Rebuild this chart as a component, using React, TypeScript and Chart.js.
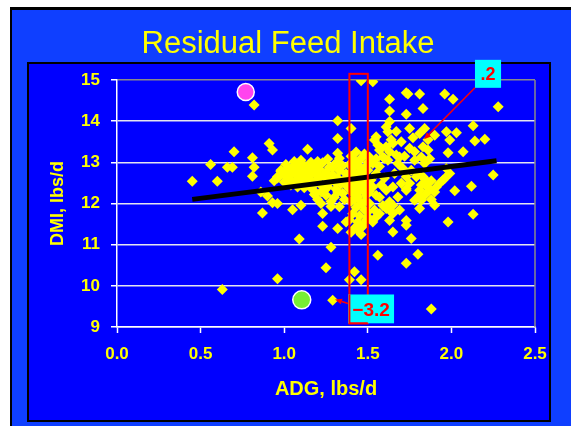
import React, { useEffect, useRef } from "react";
import { Chart, registerables } from "chart.js";

Chart.register(...registerables);

const W = 571;
const H = 426;

const chartTitle = "Residual Feed Intake";
const xAxisTitle = "ADG, lbs/d";
const yAxisTitle = "DMI, lbs/d";

const xTicks = [0, 0.5, 1, 1.5, 2, 2.5];
const yTicks = [9, 10, 11, 12, 13, 14, 15];

// individual animals: [ADG, DMI]
const steersSparse: [number, number][] = [
  [0.45, 12.54], [0.56, 12.95], [0.6, 12.54], [0.63, 9.91], [0.66, 12.88], [0.69, 12.88], [0.7, 13.26],
  [0.81, 13.11], [0.82, 12.88], [0.81, 12.66], [0.82, 14.39], [0.86, 12.28], [0.9, 12.18], [0.93, 12.02], [0.96, 12.0],
  [0.87, 11.77], [0.91, 13.46], [0.93, 13.3], [0.94, 12.55], [0.96, 12.65], [0.98, 12.81], [0.96, 10.17],
  [1.05, 11.85], [1.1, 11.96], [1.09, 11.14], [1.05, 12.89], [1.09, 12.97], [1.11, 12.85], [1.14, 13.32],
  [1.22, 12.0], [1.23, 11.76], [1.23, 11.45], [1.28, 11.93], [1.33, 11.92], [1.32, 11.39], [1.37, 11.55],
  [1.28, 10.94], [1.25, 10.44], [1.29, 9.65],
  [1.32, 14.01], [1.32, 13.58], [1.32, 13.22], [1.32, 13.01], [1.4, 13.82],
  [1.42, 10.34], [1.39, 10.15], [1.46, 10.15],
];

const steersUpper: [number, number][] = [
  [1.46, 14.98], [1.53, 14.96], [1.63, 14.53], [1.73, 14.69], [1.74, 14.66], [1.81, 14.66], [1.96, 14.66], [2.01, 14.53], [2.28, 14.35],
  [1.83, 14.31], [1.63, 14.25], [1.73, 14.17], [1.63, 13.99], [1.61, 13.86], [1.62, 13.74],
  [1.75, 13.82], [1.84, 13.82], [1.81, 13.7], [1.9, 13.66], [1.97, 13.74], [2.03, 13.72], [2.13, 13.89], [2.14, 13.52], [2.2, 13.56], [1.99, 13.54],
  [1.55, 13.62], [1.54, 13.54], [1.65, 13.46], [1.56, 13.42], [1.61, 13.38], [1.58, 13.34], [1.63, 13.26], [1.67, 13.18], [1.59, 13.13], [1.55, 13.09], [1.62, 13.05],
  [1.75, 13.34], [1.78, 13.26], [1.83, 13.38], [1.86, 13.3], [1.82, 13.13], [1.87, 13.09], [1.78, 13.05], [1.84, 12.97],
  [1.98, 13.23], [2.07, 13.26], [1.69, 13.13],
  [1.64, 13.55], [1.67, 13.75], [1.7, 13.5], [1.77, 13.6], [1.86, 13.55], [1.72, 13.15],
];

const steersRight: [number, number][] = [
  [2.25, 12.69], [2.12, 12.42], [2.02, 12.31], [1.96, 12.61], [1.93, 12.49], [1.91, 12.4], [1.97, 12.85], [1.99, 12.73], [1.95, 12.57],
  [1.73, 12.36], [1.81, 12.2], [1.82, 12.08], [1.81, 11.88], [1.9, 11.96], [2.13, 11.74], [1.98, 11.55],
  [1.73, 11.59], [1.73, 11.47], [1.65, 11.96], [1.69, 11.84], [1.63, 11.84],
  [1.65, 11.31], [1.76, 11.15], [1.55, 11.67], [1.56, 10.74], [1.8, 10.77], [1.73, 10.55], [1.88, 9.44],
  [1.76, 12.81], [1.79, 12.65], [1.75, 12.49], [1.83, 12.65], [1.85, 12.49], [1.81, 12.32], [1.87, 12.32], [1.78, 12.08],
  [1.68, 12.97], [1.71, 12.85], [1.66, 12.73], [1.73, 12.65], [1.7, 12.49], [1.65, 12.4], [1.61, 12.32], [1.73, 12.32], [1.68, 12.16], [1.63, 12.04], [1.61, 11.88], [1.65, 11.76], [1.63, 11.59],
  [1.8, 12.7], [1.84, 12.6], [1.88, 12.55], [1.82, 12.45], [1.86, 12.38], [1.84, 12.2], [1.9, 12.28], [1.88, 12.1],
  [1.51, 13.13], [1.53, 12.97], [1.5, 12.81], [1.55, 12.73], [1.52, 12.57], [1.53, 12.4], [1.5, 12.24], [1.55, 12.2], [1.51, 12.0], [1.54, 11.84], [1.5, 11.67], [1.53, 11.55],
  [1.57, 13.3], [1.6, 13.1], [1.57, 12.9], [1.6, 12.62], [1.58, 12.45], [1.57, 12.15], [1.59, 11.95], [1.57, 11.75],
];

const steersCenter: [number, number][] = [
  [0.98, 12.78], [1.0, 12.7], [1.02, 12.85], [1.03, 12.62], [1.05, 12.75], [1.06, 12.9], [1.07, 12.55], [1.08, 12.68], [1.09, 12.82], [1.1, 12.95],
  [1.11, 12.6], [1.12, 12.72], [1.13, 12.48], [1.14, 12.88], [1.15, 12.66], [1.16, 12.79], [1.17, 12.52], [1.18, 12.93], [1.19, 12.7], [1.2, 12.58],
  [1.21, 12.84], [1.22, 12.45], [1.23, 12.99], [1.24, 12.65], [1.25, 12.76], [1.26, 12.4], [1.27, 12.88], [1.28, 12.55], [1.29, 12.7], [1.3, 12.95],
  [1.31, 12.35], [1.32, 12.62], [1.33, 12.8], [1.34, 12.48], [1.35, 12.92], [1.36, 12.58], [1.37, 12.72], [1.38, 12.4], [1.04, 12.45], [1.12, 12.38],
  [1.18, 12.3], [1.25, 12.2], [1.3, 12.15], [1.35, 12.25], [1.28, 12.05], [1.22, 12.28], [1.15, 12.42], [1.08, 12.4], [1.0, 12.52], [0.96, 12.62],
  [1.1, 13.05], [1.2, 13.02], [1.26, 13.08], [1.33, 13.1], [1.16, 13.0], [1.06, 13.02], [1.36, 12.1], [1.32, 12.28], [1.24, 12.32], [1.19, 12.5],
  [1.27, 12.62], [1.14, 12.58], [1.09, 12.55], [1.03, 12.8], [1.21, 12.68], [1.31, 12.5], [1.37, 12.55], [1.12, 12.92], [1.01, 12.95], [1.29, 12.88],
  [1.18, 12.22], [1.2, 12.1],
];

const steersBracket: [number, number][] = [
  [1.4, 13.15], [1.42, 13.05], [1.44, 12.95], [1.41, 12.85], [1.46, 12.8], [1.43, 12.7], [1.48, 12.65], [1.4, 12.55], [1.45, 12.5], [1.42, 12.4],
  [1.47, 12.35], [1.5, 12.45], [1.41, 12.25], [1.44, 12.15], [1.49, 12.2], [1.4, 12.05], [1.46, 12.0], [1.43, 11.9], [1.48, 11.85], [1.41, 11.75],
  [1.45, 11.7], [1.5, 11.8], [1.39, 11.6], [1.44, 11.55], [1.47, 11.45], [1.42, 11.4], [1.49, 12.9], [1.46, 13.1], [1.5, 13.0], [1.39, 12.95],
  [1.43, 12.6], [1.47, 12.55], [1.4, 12.75], [1.45, 12.3], [1.42, 12.1], [1.48, 12.05], [1.51, 12.3], [1.39, 12.35], [1.44, 11.35], [1.49, 11.6],
  [1.4, 11.3], [1.46, 11.25], [1.43, 13.25], [1.48, 13.2],
];

const regressionLine: [number, number][] = [[0.45, 12.1], [2.27, 13.04]];
const highRfiAnimal: [number, number][] = [[0.77, 14.71]];
const lowRfiAnimal: [number, number][] = [[1.105, 9.66]];

// annotation geometry in data units
const bracketX = [1.39, 1.5];
const bracketY = [9.09, 15.15];
const highLabel = { text: ".2", x: [2.141, 2.297], y: [15.49, 14.81], target: [1.836, 13.56] };
const lowLabel = { text: "\u22123.2", x: [1.382, 1.657], y: [9.79, 9.09], target: [1.304, 9.67] };

const allSteers = [...steersSparse, ...steersUpper, ...steersRight, ...steersCenter, ...steersBracket];
const toXY = (arr: [number, number][]) => arr.map(([x, y]) => ({ x, y }));

const FONT = "'Liberation Sans', Arial, Helvetica, sans-serif";
const YELLOW = "#ffff00";

function arrow(ctx: CanvasRenderingContext2D, x0: number, y0: number, x1: number, y1: number) {
  ctx.save();
  ctx.strokeStyle = "#ff0000";
  ctx.fillStyle = "#ff0000";
  ctx.lineWidth = 1.5;
  const ang = Math.atan2(y1 - y0, x1 - x0);
  const hl = 7;
  const hw = 3;
  const bx = x1 - Math.cos(ang) * hl;
  const by = y1 - Math.sin(ang) * hl;
  ctx.beginPath();
  ctx.moveTo(x0, y0);
  ctx.lineTo(bx, by);
  ctx.stroke();
  ctx.beginPath();
  ctx.moveTo(x1, y1);
  ctx.lineTo(bx + Math.sin(ang) * hw, by - Math.cos(ang) * hw);
  ctx.lineTo(bx - Math.sin(ang) * hw, by + Math.cos(ang) * hw);
  ctx.closePath();
  ctx.fill();
  ctx.restore();
}

const framePlugin = {
  id: "frame",
  beforeDraw(chart: any) {
    const ctx = chart.ctx as CanvasRenderingContext2D;
    ctx.save();
    ctx.fillStyle = "#ffffff";
    ctx.fillRect(0, 0, W, H);
    ctx.fillStyle = "#000000";
    ctx.fillRect(10, 7, W - 10, H - 7);
    ctx.fillStyle = "#0f3fff";
    ctx.fillRect(12, 10, W - 12, H - 10);
    ctx.fillStyle = "#000000";
    ctx.fillRect(27, 62, 524, 360);
    ctx.fillStyle = "#0000ff";
    ctx.fillRect(29, 64, 520, 356);
    // title
    ctx.fillStyle = YELLOW;
    ctx.font = `31px ${FONT}`;
    ctx.textAlign = "center";
    ctx.textBaseline = "alphabetic";
    ctx.fillText(chartTitle, 288, 53);
    ctx.restore();
  },
  afterDraw(chart: any) {
    const ctx = chart.ctx as CanvasRenderingContext2D;
    const area = chart.chartArea;
    ctx.save();
    ctx.fillStyle = YELLOW;
    ctx.font = `bold 20px ${FONT}`;
    ctx.textAlign = "center";
    ctx.textBaseline = "alphabetic";
    ctx.fillText(xAxisTitle, (area.left + area.right) / 2, 395);
    ctx.translate(58, (area.top + area.bottom) / 2);
    ctx.rotate(-Math.PI / 2);
    ctx.font = `bold 18px ${FONT}`;
    ctx.textBaseline = "middle";
    ctx.fillText(yAxisTitle, 0, 0);
    ctx.restore();
  },
};

const annotationPlugin = {
  id: "rfiAnnotations",
  afterDatasetsDraw(chart: any) {
    const ctx = chart.ctx as CanvasRenderingContext2D;
    const sx = chart.scales.x;
    const sy = chart.scales.y;
    const area = chart.chartArea;
    const px = (v: number) => sx.getPixelForValue(v);
    const py = (v: number) => sy.getPixelForValue(v);
    ctx.save();
    // right plot border
    ctx.strokeStyle = "#8a8a8a";
    ctx.lineWidth = 1.5;
    ctx.beginPath();
    ctx.moveTo(area.right, area.top);
    ctx.lineTo(area.right, area.bottom);
    ctx.stroke();

    // bracket
    const bl = px(bracketX[0]);
    const br = px(bracketX[1]);
    const bt = py(bracketY[1]);
    const bb = py(bracketY[0]);
    ctx.strokeStyle = "#ff0000";
    ctx.lineWidth = 2;
    ctx.strokeRect(bl, bt, br - bl, bb - bt);

    // high label
    {
      const l = px(highLabel.x[0]);
      const r = px(highLabel.x[1]);
      const t = py(highLabel.y[0]);
      const b = py(highLabel.y[1]);
      ctx.fillStyle = "#00ffff";
      ctx.fillRect(l, t, r - l, b - t);
      ctx.fillStyle = "#ff0000";
      ctx.font = `bold 18px ${FONT}`;
      ctx.textAlign = "center";
      ctx.textBaseline = "middle";
      ctx.fillText(highLabel.text, (l + r) / 2, (t + b) / 2 + 1);
      arrow(ctx, l, b, px(highLabel.target[0]), py(highLabel.target[1]));
    }
    // low label
    {
      const l = px(lowLabel.x[0]);
      const r = px(lowLabel.x[1]);
      const t = py(lowLabel.y[0]);
      const b = py(lowLabel.y[1]);
      ctx.fillStyle = "#00ffff";
      ctx.fillRect(l, t, r - l, b - t);
      ctx.strokeStyle = "#ff0000";
      ctx.lineWidth = 2;
      ctx.beginPath();
      ctx.moveTo(bl, t);
      ctx.lineTo(bl, bb);
      ctx.lineTo(br, bb);
      ctx.stroke();
      ctx.fillStyle = "#ff0000";
      ctx.font = `bold 19px ${FONT}`;
      ctx.textAlign = "center";
      ctx.textBaseline = "middle";
      ctx.fillText(lowLabel.text, (l + r) / 2, (t + b) / 2 + 2);
      arrow(ctx, l, t + 9, px(lowLabel.target[0]), py(lowLabel.target[1]));
    }
    ctx.restore();
  },
};

export default function App() {
  const ref = useRef<HTMLCanvasElement | null>(null);
  useEffect(() => {
    if (!ref.current) return;
    const chart = new Chart(ref.current, {
      type: "scatter",
      data: {
        datasets: [
          {
            type: "line",
            label: "regression",
            data: toXY(regressionLine),
            borderColor: "#000000",
            borderWidth: 5,
            pointRadius: 0,
            fill: false,
            order: 1,
          } as any,
          {
            label: "high",
            data: toXY(highRfiAnimal),
            backgroundColor: "#ff44ee",
            borderColor: "#ffffff",
            borderWidth: 1.5,
            pointRadius: 8.5,
            pointStyle: "circle",
            order: 2,
          },
          {
            label: "low",
            data: toXY(lowRfiAnimal),
            backgroundColor: "#77ee33",
            borderColor: "#ffffff",
            borderWidth: 1.5,
            pointRadius: 9,
            pointStyle: "circle",
            order: 2,
          },
          {
            label: "steers",
            data: toXY(allSteers),
            backgroundColor: YELLOW,
            borderColor: YELLOW,
            borderWidth: 0,
            pointRadius: 5.5,
            pointStyle: "rectRot",
            order: 3,
          },
        ],
      },
      options: {
        animation: false,
        responsive: false,
        devicePixelRatio: 1,
        layout: { padding: { top: 80, right: 36, bottom: 0, left: 0 } },
        plugins: { legend: { display: false }, tooltip: { enabled: false }, title: { display: false } },
        scales: {
          x: {
            type: "linear",
            min: 0,
            max: 2.5,
            afterBuildTicks: (s: any) => {
              s.ticks = xTicks.map((v) => ({ value: v }));
            },
            afterFit: (s: any) => {
              s.height = 99;
            },
            ticks: {
              color: YELLOW,
              font: { family: FONT, size: 17, weight: "bold" },
              padding: 11,
              maxRotation: 0,
              autoSkip: false,
              callback: (v: any) => Number(v).toFixed(1),
            },
            grid: { drawOnChartArea: false, drawTicks: true, tickLength: 6, tickColor: "#ffffff", tickWidth: 1.5 },
            border: { display: true, color: "#ffffff", width: 1.5 },
          },
          y: {
            type: "linear",
            min: 9,
            max: 15,
            afterBuildTicks: (s: any) => {
              s.ticks = yTicks.map((v) => ({ value: v }));
            },
            afterFit: (s: any) => {
              s.width = 117;
            },
            ticks: {
              color: YELLOW,
              font: { family: FONT, size: 17, weight: "bold" },
              padding: 11,
              autoSkip: false,
            },
            grid: {
              color: (c: any) => (c.tick && c.tick.value === 15 ? "#8a8a8a" : "#e4e4f0"),
              lineWidth: 1.5,
              drawTicks: true,
              tickLength: 6,
              tickColor: "#ffffff",
              tickWidth: 1.5,
            },
            border: { display: true, color: "#ffffff", width: 1.5 },
          },
        },
      },
      plugins: [framePlugin, annotationPlugin],
    } as any);
    return () => chart.destroy();
  }, []);
  return (
    <div style={{ position: "absolute", left: 0, top: 0, width: W, height: H }}>
      <canvas ref={ref} width={W} height={H} style={{ display: "block", width: W, height: H }} />
    </div>
  );
}
